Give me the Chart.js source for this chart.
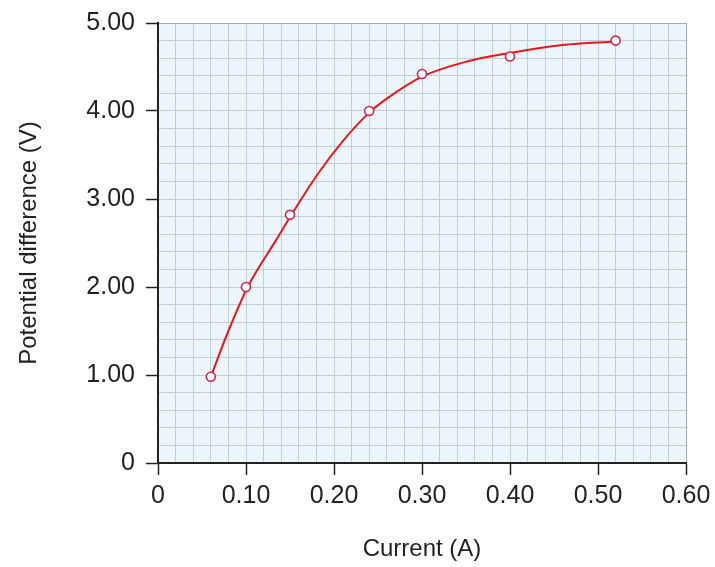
<!DOCTYPE html>
<html>
<head>
<meta charset="utf-8">
<script src="https://cdn.jsdelivr.net/npm/chart.js@4"></script>
<style>
  html, body { margin: 0; padding: 0; background: #fff; }
  #wrap { width: 715px; height: 567px; }
</style>
</head>
<body>
<div id="wrap"><canvas id="ivChart"></canvas></div>
<script>
  // measured points (circles)
  const currentA = [0.06, 0.10, 0.15, 0.24, 0.30, 0.40, 0.52];
  const voltageV = [0.98, 2.00, 2.82, 4.00, 4.42, 4.62, 4.80];

  // hand-drawn best-fit curve
  const curveA = [0.06, 0.08, 0.102, 0.134, 0.151, 0.182, 0.211, 0.241, 0.26, 0.30, 0.35, 0.40, 0.46, 0.52];
  const curveV = [0.98, 1.50, 2.00, 2.53, 2.81, 3.29, 3.67, 3.99, 4.14, 4.39, 4.56, 4.66, 4.75, 4.79];

  const xTickLabels = ["0", "0.10", "0.20", "0.30", "0.40", "0.50", "0.60"];
  const yTickLabels = ["0", "1.00", "2.00", "3.00", "4.00", "5.00"];

  const INK = "#222";
  const GRID = "#c3cdd4";
  const EDGE = "#a9a9a9";
  const FONT = "'Liberation Sans', Arial, sans-serif";

  // graph paper: 5 small squares per labelled step
  function paperTicks(step, count) {
    return (scale) => {
      const ticks = [];
      for (let i = 0; i <= count * 5; i++) {
        ticks.push({ value: (i * step) / 5, major: i % 5 === 0 });
      }
      scale.ticks = ticks;
    };
  }

  function gridColor(ctx) {
    const n = ctx.scale.ticks.length - 1;
    return ctx.index === n ? EDGE : GRID;
  }

  function tickColor(ctx) {
    return ctx.tick && ctx.tick.major ? INK : "transparent";
  }

  const paperBg = {
    id: "paperBg",
    beforeDraw(chart) {
      const { ctx, chartArea: a } = chart;
      ctx.save();
      ctx.fillStyle = "#ecf6fa";
      ctx.fillRect(a.left, a.top, a.right - a.left, a.bottom - a.top);
      ctx.restore();
    },
  };

  new Chart(document.getElementById("ivChart"), {
    type: "line",
    data: {
      datasets: [
        {
          // circles on top
          data: currentA.map((x, i) => ({ x, y: voltageV[i] })),
          showLine: false,
          pointRadius: 4.5,
          pointBorderWidth: 1.6,
          pointBorderColor: "#d2244e",
          pointBackgroundColor: "#ffffff",
        },
        {
          data: curveA.map((x, i) => ({ x, y: curveV[i] })),
          borderColor: "#e8161c",
          borderWidth: 2,
          cubicInterpolationMode: "monotone",
          pointRadius: 0,
          fill: false,
        },
      ],
    },
    options: {
      responsive: true,
      maintainAspectRatio: false,
      animation: false,
      layout: { padding: { left: 0, right: 29, top: 23, bottom: 0 } },
      plugins: { legend: { display: false }, tooltip: { enabled: false } },
      scales: {
        x: {
          type: "linear",
          min: 0,
          max: 0.6,
          afterBuildTicks: paperTicks(0.1, 6),
          afterFit: (s) => {
            s.height = 104;
            s.paddingLeft = 0;
            s.paddingRight = 0;
          },
          border: { color: INK, width: 2 },
          grid: { color: gridColor, lineWidth: 1, tickLength: 12, tickColor, tickWidth: 1.5 },
          ticks: {
            autoSkip: false,
            maxRotation: 0,
            padding: 6,
            color: INK,
            font: { family: FONT, size: 25 },
            callback: (v, i, ticks) => (ticks[i].major ? xTickLabels[i / 5] : ""),
          },
          title: {
            display: true,
            text: "Current (A)",
            color: INK,
            font: { family: FONT, size: 24 },
            padding: { top: 0, bottom: 3 },
          },
        },
        y: {
          type: "linear",
          min: 0,
          max: 5,
          afterBuildTicks: paperTicks(1, 5),
          afterFit: (s) => {
            s.width = 158;
            s.paddingTop = 0;
            s.paddingBottom = 0;
          },
          border: { color: INK, width: 2 },
          grid: { color: gridColor, lineWidth: 1, tickLength: 12, tickColor, tickWidth: 1.5 },
          ticks: {
            autoSkip: false,
            padding: 11,
            color: INK,
            font: { family: FONT, size: 25 },
            callback: (v, i, ticks) => (ticks[i].major ? yTickLabels[i / 5] : ""),
          },
          title: {
            display: true,
            text: "Potential difference (V)",
            color: INK,
            font: { family: FONT, size: 24 },
            padding: { top: 15, bottom: 0 },
          },
        },
      },
    },
    plugins: [paperBg],
  });
</script>
</body>
</html>
